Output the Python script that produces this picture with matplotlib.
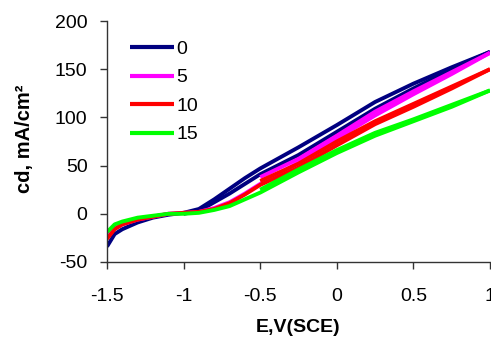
import matplotlib
matplotlib.use("Agg")
import matplotlib.pyplot as plt

plt.rcParams['font.family'] = ['Liberation Sans', 'DejaVu Sans']
plt.rcParams['axes.unicode_minus'] = False

# Potential grid for the return sweep (1.0 V -> -1.5 V)
E_rev = [1.0, 0.75, 0.5, 0.25, 0.0, -0.25, -0.5, -0.6, -0.7, -0.8, -0.9,
         -1.0, -1.1, -1.2, -1.3, -1.4, -1.45, -1.5]
# Potential grid for the forward sweep starting at -0.5 V
E_fwd = [-0.5, -0.25, 0.0, 0.25, 0.5, 0.75, 1.0]
# Forward sweep of the blank electrode, starting at -1.0 V
E_fwd0 = [-1.0, -0.9, -0.8, -0.7, -0.6, -0.5, -0.25, 0.0, 0.25, 0.5, 0.75, 1.0]

labels = ['0', '5', '10', '15']
colors = ['#000080', '#FF00FF', '#FF0000', '#00FF00']

# Current density, mA/cm2
cd0_rev = [168, 152, 135, 116, 92, 69, 47, 37, 26, 15, 5, 1, -1, -4, -9, -16, -21, -34]
cd0_fwd = [0, 3, 12, 21, 31, 41, 61, 85, 109, 130, 150, 168]

cd5_fwd = [38, 57, 81, 106, 127, 147, 167]
cd5_rev = [167, 145, 124, 102, 78, 53, 31, 21, 12, 6, 2, 1, 0, -3, -6, -11, -15, -24]

cd10_fwd = [34, 52, 75, 96, 114, 132, 150]
cd10_rev = [150, 130, 111, 93, 71, 48, 30, 20, 11, 5, 2, 1, 0, -3, -6, -11, -16, -26]

cd15_fwd = [25, 46, 66, 84, 98, 113, 128]
cd15_rev = [128, 111, 96, 81, 63, 43, 22, 15, 8, 4, 1, 0, 0, -2, -4, -8, -11, -19]

curves = [
    (E_fwd0, cd0_fwd, E_rev, cd0_rev),
    (E_fwd, cd5_fwd, E_rev, cd5_rev),
    (E_fwd, cd10_fwd, E_rev, cd10_rev),
    (E_fwd, cd15_fwd, E_rev, cd15_rev),
]

fig = plt.figure(figsize=(4.91, 3.38), dpi=100)
ax = fig.add_axes([107 / 491, 76 / 338, 383 / 491, 241 / 338])

lw = 2.8
for (ef, cf, er, cr), lab, col in zip(curves, labels, colors):
    ax.plot(er, cr, color=col, lw=lw, label=lab, solid_capstyle='butt')
    ax.plot(ef, cf, color=col, lw=lw, solid_capstyle='butt')

ax.set_xlim(-1.5, 1.0)
ax.set_ylim(-50, 200)
ax.set_xticks([-1.5, -1, -0.5, 0, 0.5, 1])
ax.set_xticklabels(['-1.5', '-1', '-0.5', '0', '0.5', '1'])
ax.set_yticks([-50, 0, 50, 100, 150, 200])

for s in ['top', 'right']:
    ax.spines[s].set_visible(False)
for s in ['left', 'bottom']:
    ax.spines[s].set_color('#333333')
    ax.spines[s].set_linewidth(1.0)

ax.tick_params(axis='x', direction='out', length=5, width=1, color='#333333',
               labelsize=14, pad=14)
ax.tick_params(axis='y', direction='out', length=5, width=1, color='#333333',
               labelsize=14, pad=9)

ax.set_xlabel('E,V(SCE)', fontsize=14, fontweight='bold')
ax.xaxis.set_label_coords(0.5, -0.235)
ax.set_ylabel('cd, mA/cm²', fontsize=14.5, fontweight='bold')
ax.yaxis.set_label_coords(-0.19, 0.51)

leg = ax.legend(loc='upper left', bbox_to_anchor=(0.06, 0.92), frameon=False,
                fontsize=14, handlelength=2.25, handletextpad=0.15,
                labelspacing=0.56, borderpad=0, borderaxespad=0)
for h in leg.get_lines():
    h.set_linewidth(3)

fig.savefig('out.png', dpi=100)
